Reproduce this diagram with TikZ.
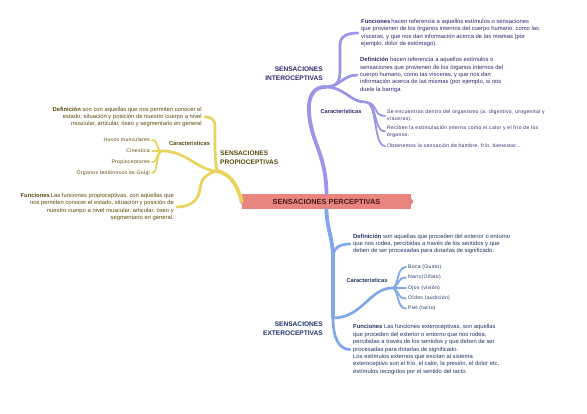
\documentclass[tikz,border=0pt]{standalone}
\usepackage{fontspec}
\setmainfont{Liberation Sans}
\usetikzlibrary{positioning}
\definecolor{percFill}{HTML}{E9847E}
\definecolor{percText}{HTML}{4A1C1C}
\definecolor{interLine}{HTML}{9C94E8}
\definecolor{interText}{HTML}{2E2A6E}
\definecolor{propLine}{HTML}{E8D35C}
\definecolor{propText}{HTML}{5C4A0A}
\definecolor{extLine}{HTML}{7FA7EA}
\definecolor{extText}{HTML}{1F3566}

\begin{document}
\begin{tikzpicture}[x=1pt,y=-1pt,
    txt/.style={inner xsep=3pt,inner ysep=0pt,font=\fontsize{5.85}{7.4}\selectfont},
    itm/.style={inner xsep=2pt,inner ysep=0pt,font=\fontsize{5.1}{7}\selectfont\addfontfeatures{LetterSpace=6}},
    head/.style={inner sep=0pt,font=\fontsize{6.6}{9}\selectfont\bfseries},
    carac/.style={inner sep=0pt,font=\fontsize{5.7}{7}\selectfont\bfseries},
    trunk/.style={line width=3.8pt,line cap=round},
    branch/.style={line width=2.7pt,line cap=round},
    twig/.style={line width=1.8pt,line cap=round}]
    \fill[white] (0,0) rectangle (587,413);
    \useasboundingbox (0,0) rectangle (587,413);

    % central topic
    \node[fill=percFill,minimum width=169pt,minimum height=15pt,inner sep=0pt,
          font=\fontsize{7.4}{8}\selectfont\bfseries,text=percText] (perc) at (326.5,201.5) {SENSACIONES PERCEPTIVAS};
    \fill[percFill] (perc.west) ++(0,-3) -- ++(-2.5,3) -- ++(2.5,3) -- cycle;
    \fill[percFill] (perc.east) ++(0,-3) -- ++(2.5,3) -- ++(-2.5,3) -- cycle;

    \coordinate (interJ) at (325,87);
    \coordinate (interCJ) at (365,102);
    \coordinate (propJ) at (217,171);
    \coordinate (propCJ) at (163,151);
    \coordinate (extJ) at (333,318);
    \coordinate (extCJ) at (392,288);

    % interoceptivas
    \node[head,text=interText,align=right,anchor=east] (inter) at (323,74) {SENSACIONES\\INTEROCEPTIVAS};
    \node[txt,text=interText,align=left,anchor=west] (interFun) at (358,33)
      {\textbf{Funciones}\,hacen referencia a aquellos estímulos o sensaciones\\que provienen de los órganos internos del cuerpo humano, como las\\vísceras, y que nos dan información acerca de las mismas (por\\ejemplo, dolor de estómago).};
    \node[txt,text=interText,align=left,anchor=west] (interDef) at (357,75)
      {\textbf{Definición} hacen referencia a aquellos estímulos o\\sensaciones que provienen de los órganos internos del\\cuerpo humano, como las vísceras, y que nos dan\\información acerca de las mismas (por ejemplo, si nos\\duele la barriga};
    \node[carac,text=interText] (interCar) at (341,111) {Características};
    \node[itm,text=interText,align=left,anchor=west] (interI1) at (385,116) {Se encuentran dentro del organismo (a. digestivo, urogenital y\\vísceras).};
    \node[itm,text=interText,align=left,anchor=west] (interI2) at (385,131.5) {Reciben la estimulación interna como el calor y el frío de los\\órganos.};
    \node[itm,text=interText,anchor=west] (interI3) at (385,146) {Obtenemos la sensación de hambre, frío, bienestar...};

    \draw[trunk,interLine] (perc.north) .. controls (326,150) and (308,140) .. (309,105) .. controls (310,93) and (316,87) .. (interJ);
    \draw[branch,interLine] (interJ) .. controls (337,87) and (340,82) .. (340,70) -- (340,45) .. controls (340,37) and (346,33) .. (interFun.west);
    \draw[branch,interLine] (interJ) .. controls (340,87) and (343,75) .. (interDef.west);
    \draw[branch,interLine] (interJ) .. controls (345,87) and (350,102) .. (interCJ);
    \foreach \i in {interI1,interI2,interI3}
      \draw[twig,interLine] (interCJ) .. controls (378,102) and (373,0|-\i.west) .. (\i.west);

    % propioceptivas
    \node[head,text=propText,align=left,anchor=west] (prop) at (220,158) {SENSACIONES\\PROPIOCEPTIVAS};
    \node[txt,text=propText,align=right,anchor=east] (propDef) at (205,117)
      {\textbf{Definición} son con aquellas que nos permiten conocer el\\estado, situación y posición de nuestro cuerpo a nivel\\muscular, articular, óseo y segmentario en general};
    \node[txt,text=propText,align=right,anchor=east] (propFun) at (177,207)
      {\textbf{Funciones}\,Las funciones propioceptivas, con aquellas que\\nos permiten conocer el estado, situación y posición de\\nuestro cuerpo a nivel muscular, articular, óseo y\\segmentario en general.};
    \node[carac,text=propText] (propCar) at (189.5,143) {Características};
    \node[itm,text=propText,anchor=east] (propI1) at (152,140) {Husos musculares};
    \node[itm,text=propText,anchor=east] (propI2) at (152,151) {Cinestica};
    \node[itm,text=propText,anchor=east] (propI3) at (152,162) {Propioceptores};
    \node[itm,text=propText,anchor=east] (propI4) at (152,173) {Órganos tendinosos de Golgi};

    \draw[trunk,propLine] (perc.west) .. controls (238,188) and (232,174) .. (propJ);
    \draw[branch,propLine] (propJ) .. controls (215,160) and (215,150) .. (215,138) -- (215,126) .. controls (215,119) and (211,117) .. (propDef.east);
    \draw[branch,propLine] (propJ) .. controls (205,174) and (201,180) .. (200,189) .. controls (199,200) and (190,207) .. (propFun.east);
    \draw[branch,propLine] (propJ) .. controls (199,171) and (186,151) .. (propCJ);
    \foreach \i in {propI1,propI2,propI3,propI4}
      \draw[twig,propLine] (propCJ) .. controls (155,151) and (159,0|-\i.east) .. (\i.east);

    % exteroceptivas
    \node[head,text=extText,align=right,anchor=east] (ext) at (323,329) {SENSACIONES\\EXTEROCEPTIVAS};
    \node[txt,text=extText,align=left,anchor=west] (extDef) at (350,244)
      {\textbf{Definición} son aquellas que proceden del exterior o entorno\\que nos rodea, percibidas a través de los sentidos y que\\deben de ser procesadas para dotarlas de significado.};
    \node[txt,text=extText,align=left,anchor=west] (extFun) at (350,349.5)
      {\textbf{Funciones} Las funciones exteroceptivas, son aquellas\\que proceden del exterior o entorno que nos rodea,\\percibidas a través de los sentidos y que deben de ser\\procesadas para dotarlas de significado.\\Los estímulos externos que excitan al sistema\\exteroceptivo son el frío, el calor, la presión, el dolor etc,\\estímulos recogidos por el sentido del tacto.};
    \node[carac,text=extText] (extCar) at (367,280) {Características};
    \node[itm,text=extText,anchor=west] (extI1) at (406,267) {Boca (Gusto)};
    \node[itm,text=extText,anchor=west] (extI2) at (406,277.5) {Nariz(Olfato)};
    \node[itm,text=extText,anchor=west] (extI3) at (406,288) {Ojos (visión)};
    \node[itm,text=extText,anchor=west] (extI4) at (406,298.5) {Oídos (audición)};
    \node[itm,text=extText,anchor=west] (extI5) at (406,308.5) {Piel (tacto)};

    \draw[trunk,extLine] (perc.south) .. controls (326.5,228) and (333,238) .. (333,258) -- (extJ);
    \draw[branch,extLine] (extJ) -- (333,258) .. controls (333,249) and (338,244) .. (extDef.west);
    \draw[branch,extLine] (extJ) .. controls (362,318) and (370,288) .. (extCJ);
    \draw[branch,extLine] (extJ) .. controls (333,338) and (339,349.5) .. (extFun.west);
    \foreach \i in {extI1,extI2,extI3,extI4,extI5}
      \draw[twig,extLine] (extCJ) .. controls (399,288) and (396,0|-\i.west) .. (\i.west);
\end{tikzpicture}
\end{document}
